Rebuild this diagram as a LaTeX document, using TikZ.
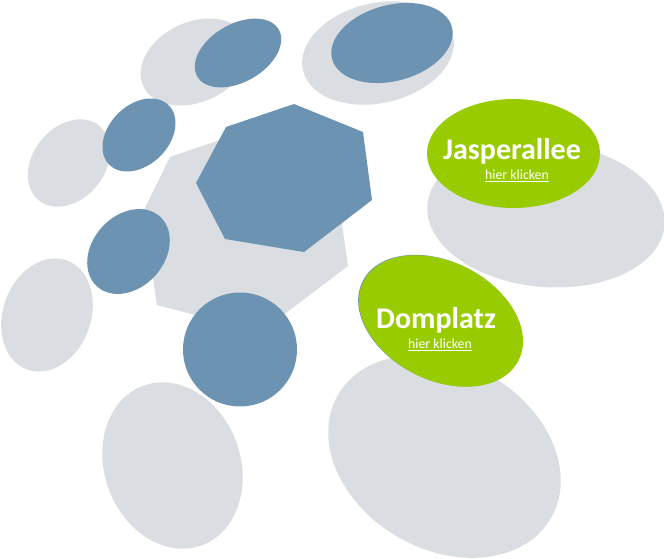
\documentclass[tikz,border=0pt]{standalone}
\usepackage{fontspec}
\setmainfont{Carlito}
\usepackage{tikz}
\usetikzlibrary{positioning}
\definecolor{bubbleGrey}{RGB}{218,222,226}
\definecolor{bubbleBlue}{RGB}{108,147,178}
\definecolor{bubbleGreen}{RGB}{153,204,0}

\begin{document}
\begin{tikzpicture}[x=1pt, y=-1pt,
      gry/.style={fill=bubbleGrey},
      blu/.style={fill=bubbleBlue},
      grn/.style={fill=bubbleGreen},
      place/.style={text=white, inner sep=0pt,
                    font=\fontsize{30}{34}\selectfont\bfseries},
      link/.style={text=white, inner sep=0pt,
                   font=\fontsize{13.8}{16}\selectfont}
    ]
      \useasboundingbox (0,0) rectangle (664,559);
      % Grey bubbles (background)
      \fill[gry, rotate around={25:(195,62)}] (195,62) ellipse [x radius=57, y radius=40];
      \fill[gry, rotate around={13:(378,53)}] (378,53) ellipse [x radius=77, y radius=50];
      \fill[gry, rotate around={51:(69,163)}] (69,163) ellipse [x radius=48, y radius=36];
      \fill[gry, rotate around={70:(47,315)}] (47,315) ellipse [x radius=58, y radius=44];
      \fill[gry, rotate around={-70:(172.5,465.5)}] (172.5,465.5) ellipse [x radius=85, y radius=68];
      \fill[gry, rotate around={-30:(444.5,456.5)}] (444.5,456.5) ellipse [x radius=123, y radius=93];
      \fill[gry, rotate around={-5:(546,215)}] (546,215) ellipse [x radius=119, y radius=72];
      % Grey heptagon
      \fill[gry] (170,157) -- (255,128) -- (335,175) -- (348,266)
        -- (261,332) -- (157,305) -- (143,212) -- cycle;
      % Blue bubbles
      \fill[blu, rotate around={30:(238,53)}] (238,53) ellipse [x radius=47, y radius=29];
      \fill[blu, rotate around={15:(392,43)}] (392,43) ellipse [x radius=62, y radius=38];
      \fill[blu, rotate around={45:(139,135)}] (139,135) ellipse [x radius=42, y radius=30];
      \fill[blu, rotate around={48:(128.5,251.5)}] (128.5,251.5) ellipse [x radius=47, y radius=36];
      \fill[blu] (240,349.5) circle [radius=57];
      % Blue heptagon
      \fill[blu] (294,104) -- (363,132) -- (372,200) -- (304,252)
        -- (225,239) -- (196,183) -- (226,127) -- cycle;
      % Green bubble: Jasperallee
      \fill[grn] (513.5,153.5) ellipse [x radius=86.5, y radius=54.5];
      \node[place, anchor=base] (jasper) at (512,160) {Jasperallee};
      \node[link, below=5pt of jasper, xshift=5pt] (jasperlink) {\underline{hier klicken}};
      % Green bubble: Domplatz
      \fill[blu, rotate around={-27:(440.2,320.6)}] (440.2,320.6) ellipse [x radius=87, y radius=59];
      \fill[grn, rotate around={-27:(441,321)}] (441,321) ellipse [x radius=87, y radius=59];
      \node[place, anchor=base] (dom) at (436,328) {Domplatz};
      \node[link, below=6pt of dom, xshift=4pt] (domlink) {\underline{hier klicken}};
    \end{tikzpicture}
\end{document}
